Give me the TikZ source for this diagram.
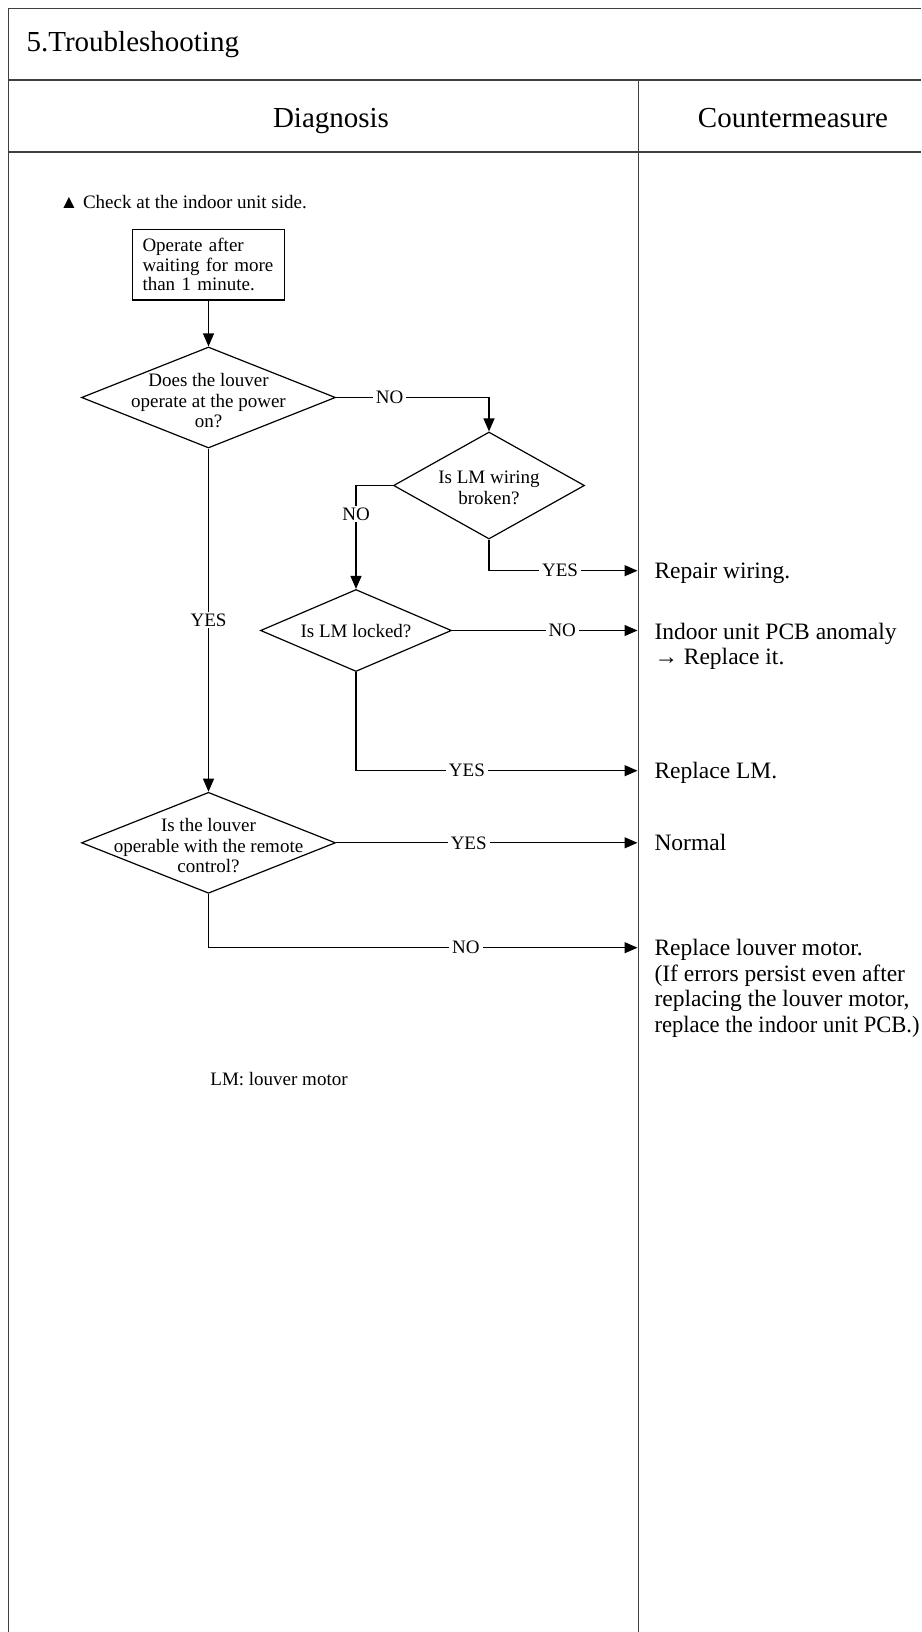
\documentclass[tikz,border=0pt]{standalone}
\usepackage{fontspec}
\usepackage{graphicx}
\setmainfont{Liberation Serif}
\usetikzlibrary{arrows.meta,shapes.geometric}
\begin{document}
\begin{tikzpicture}[x=1pt,y=-1pt,
  frame/.style={line width=1.5pt, draw=black!75},
  flow/.style={line width=1.2pt, draw=black},
  arr/.style={flow, -{Triangle[length=13pt,width=11pt]}},
  procbox/.style={draw, line width=1.2pt, rectangle, align=left, text width=132pt, inner xsep=10pt, inner ysep=0pt, minimum height=70.7pt, font=\fontsize{19}{19.5}\selectfont},
  decision/.style={draw, line width=1.2pt, diamond, inner sep=0pt},
  qtext/.style={align=center, inner sep=0pt, font=\fontsize{19}{20.5}\selectfont},
  lab/.style={fill=white, inner xsep=3pt, inner ysep=1.5pt, font=\fontsize{19}{20}\selectfont},
  note/.style={inner sep=0pt, font=\fontsize{19}{20}\selectfont},
  ans/.style={anchor=base west, align=left, inner sep=0pt, font=\fontsize{23.5}{25.5}\selectfont},
  head/.style={anchor=base, inner sep=0pt, font=\fontsize{29}{32}\selectfont},
]
\useasboundingbox (0,0) rectangle (921,1632);
% frame
\draw[frame] (8.3,1632) -- (8.3,8.3) -- (921,8.3);
\draw[frame] (8.3,80) -- (921,80);
\draw[frame] (8.3,152) -- (921,152);
\draw[frame] (638.5,80) -- (638.5,1632);
% headings
\node[head, anchor=base west] (title) at (26.4,52) {5.Troubleshooting};
\node[head] (hdiag) at (331,128) {Diagnosis};
\node[head] (hcm) at (793,128) {Countermeasure};
% note
\node[note, anchor=base west] (check) at (59.3,208.3) {▲ Check at the indoor unit side.};
\node[note, anchor=base] (lmnote) at (279,1085.5) {LM: louver motor};
% flow nodes
\node[procbox] (start) at (208.5,264.7) {Operate after\\waiting for more\\than 1 minute.};
\node[decision, minimum width=254pt, minimum height=101pt] (d1) at (208.5,397.5) {};
\node[qtext] (t1) at (208.5,401) {Does the louver\\operate at the power\\on?};
\node[decision, minimum width=191pt, minimum height=107pt] (d2) at (489,485.5) {};
\node[qtext] (t2) at (489,488) {Is LM wiring\\broken?};
\node[decision, minimum width=191pt, minimum height=82pt] (d3) at (356,630.5) {};
\node[qtext] (t3) at (356,631.5) {Is LM locked?};
\node[decision, minimum width=254pt, minimum height=101pt] (d4) at (208.5,842.8) {};
\node[qtext] (t4) at (208.5,846) {Is the louver\\operable with the remote\\control?};
% arrow ends at the divider
\coordinate (r1) at (637.5,570.7);
\coordinate (r2) at (637.5,630.5);
\coordinate (r3) at (637.5,770.7);
\coordinate (r4) at (637.5,842.8);
\coordinate (r5) at (637.5,947.7);
% countermeasures (base = baseline of the last line)
\node[ans] (a1) at (654.3,578.5) {Repair wiring.};
\node[ans] (a2) at (654.3,664.5) {Indoor unit PCB anomaly\\→ Replace it.};
\node[ans] (a3) at (654.3,778.5) {Replace LM.};
\node[ans] (a4) at (654.3,850.6) {Normal};
\node[ans] (a5) at (654.3,1032) {Replace louver motor.\\(If errors persist even after\\replacing the louver motor,\\\scalebox{0.96}[1]{replace the indoor unit PCB.)}};
% connectors
\draw[arr] (start.south) -- (d1.north);
\draw[arr] (d1.east) -| node[lab, pos=0.175] {NO} (d2.north);
\draw[arr] (d2.west) -| node[lab, pos=0.639] {NO} (d3.north);
\draw[arr] (d2.south) |- node[lab, pos=0.739] {YES} (r1);
\draw[arr] (d3.east) -- node[lab, pos=0.594] {NO} (r2);
\draw[arr] (d3.south) |- node[lab, pos=0.697] {YES} (r3);
\draw[arr] (d1.south) -- node[lab, pos=0.5] {YES} (d4.north);
\draw[arr] (d4.east) -- node[lab, pos=0.44] {YES} (r4);
\draw[arr] (d4.south) |- node[lab, pos=0.8] {NO} (r5);
\end{tikzpicture}
\end{document}
